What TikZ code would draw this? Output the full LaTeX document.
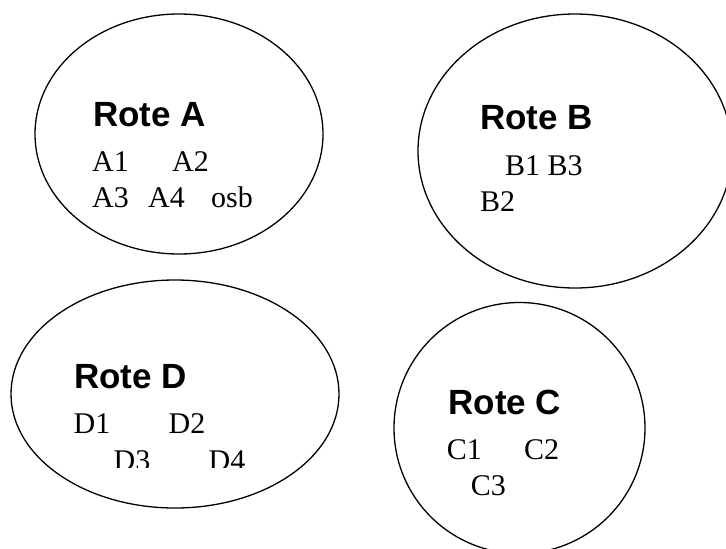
\documentclass[tikz,border=0pt]{standalone}
\usepackage{fontspec}
\setmainfont{Liberation Serif}
\setsansfont{Liberation Sans}
\usetikzlibrary{shapes.geometric}
\begin{document}
\begin{tikzpicture}[x=1pt,y=-1pt,
  rote/.style={draw=black,line width=1.3pt,ellipse,inner sep=0pt},
  title/.style={anchor=base west,inner sep=0pt,font=\fontsize{35}{40}\selectfont\sffamily\bfseries},
  item/.style={anchor=base west,inner sep=0pt,font=\fontsize{30}{36}\selectfont}]
\useasboundingbox (0,0) rectangle (726,549);
\clip (0,0) rectangle (726,549);
% ellipses
\node[rote,minimum width=288pt,minimum height=240pt] (ellA) at (179,134) {};
\node[rote,minimum width=314pt,minimum height=274pt] (ellB) at (575,151) {};
\node[rote,minimum width=328pt,minimum height=228pt] (ellD) at (175,394) {};
\node[rote,minimum width=251pt,minimum height=251pt] (ellC) at (519.5,428) {};
% Rote A
\node[title] (tA) at (93,126.5) {Rote A};
\node[item] (a1) at (92,171) {A1};
\node[item] (a2) at (172,171) {A2};
\node[item] (a3) at (92,207) {A3};
\node[item] (a4) at (148,207) {A4};
\node[item] (osb) at (211,207) {osb};
% Rote B
\node[title] (tB) at (480,129.3) {Rote B};
\node[item] (b13) at (505,175) {B1 B3};
\node[item] (b2) at (480,211.7) {B2};
% Rote D
\node[title] (tD) at (74,388.3) {Rote D};
\node[item] (d1) at (73.5,433) {D1};
\node[item] (d2) at (168.5,433) {D2};
\begin{scope}
\clip (0,0) rectangle (726,467.5);
\node[item] (d3) at (113.5,470.5) {D3};
\node[item] (d4) at (208.5,470.5) {D4};
\end{scope}
% Rote C
\node[title] (tC) at (448.3,414) {Rote C};
\node[item] (c1) at (446.7,459.3) {C1};
\node[item] (c2) at (524,459.3) {C2};
\node[item] (c3) at (470.7,495.7) {C3};
\end{tikzpicture}
\end{document}
